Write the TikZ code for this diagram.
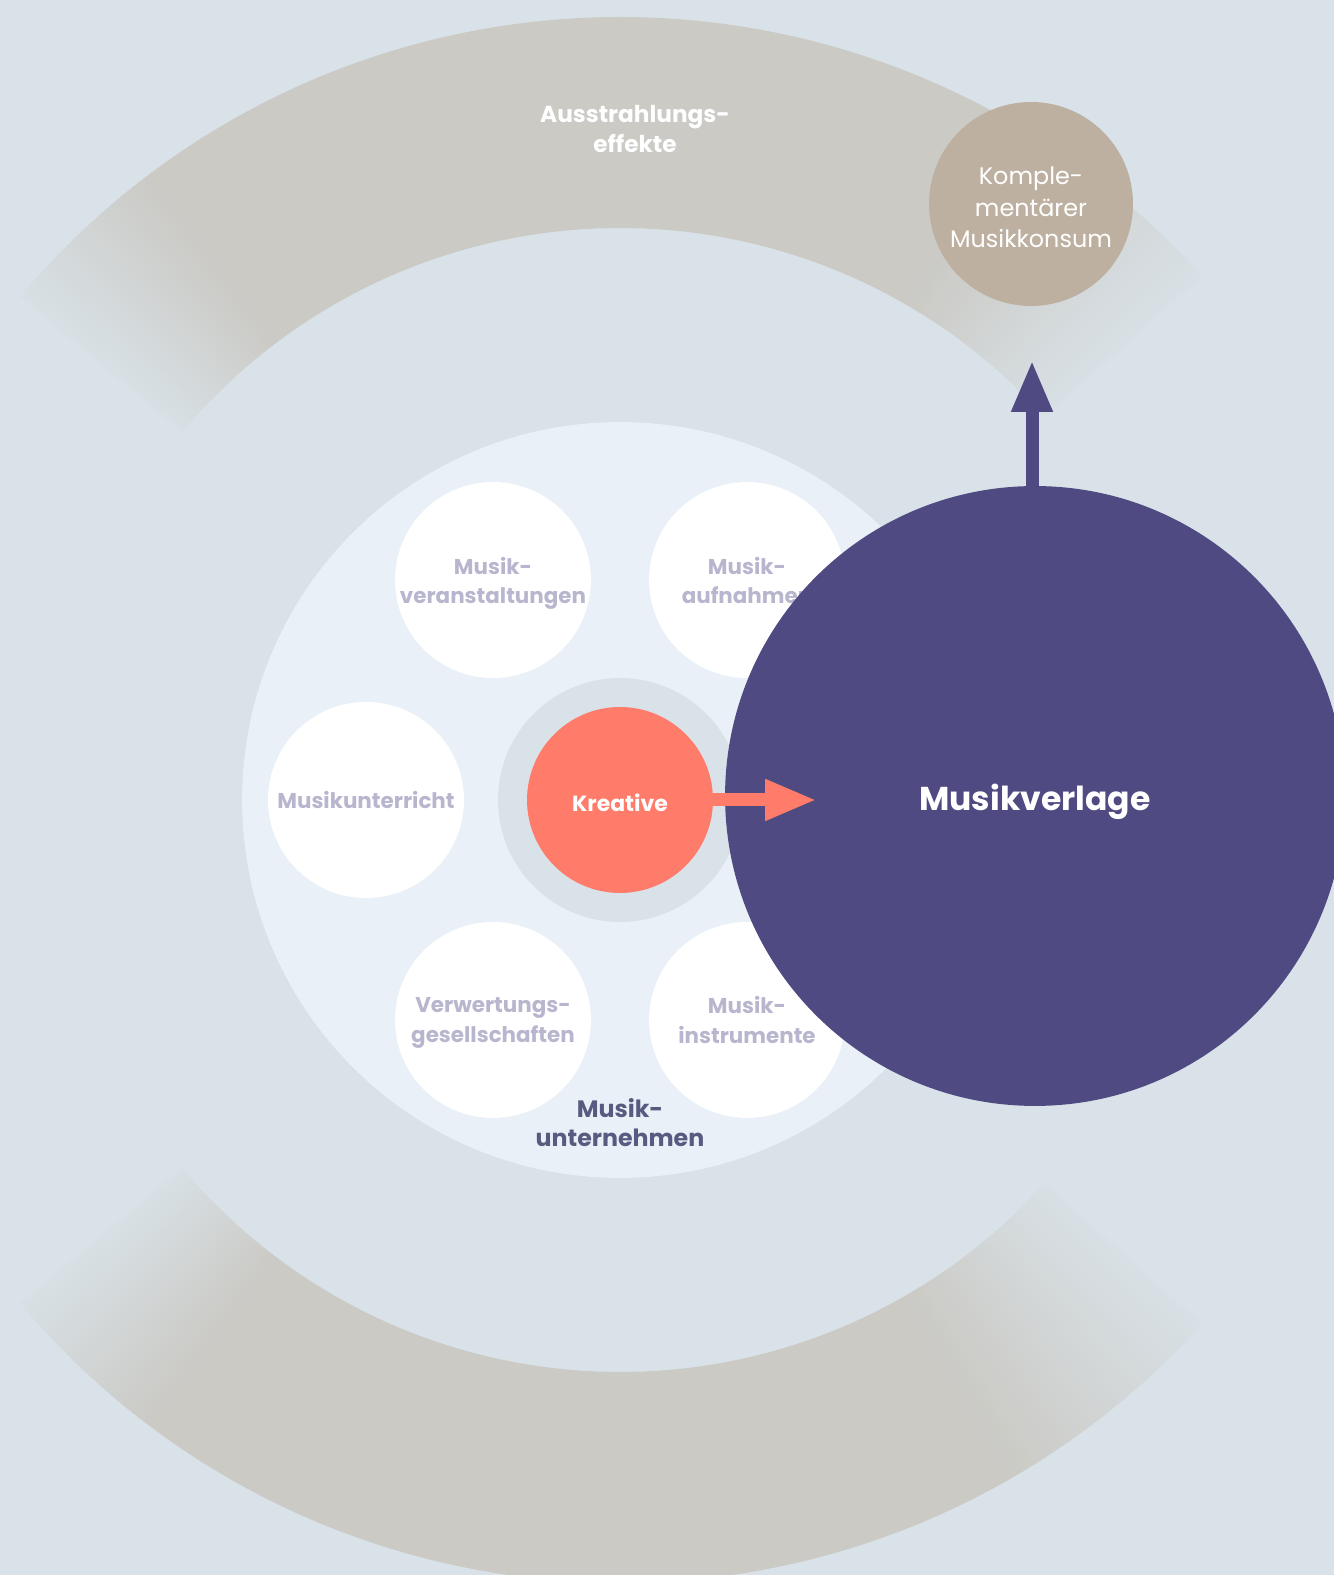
\documentclass[tikz,border=0pt]{standalone}
\usepackage{fontspec}
\setmainfont{Poppins}
\usetikzlibrary{arrows.meta}

\definecolor{bgblue}{HTML}{D9E2E8}
\definecolor{ringgrey}{HTML}{CBCAC5}
\definecolor{discblue}{HTML}{E9F0F7}
\definecolor{coral}{HTML}{FF7C6A}
\definecolor{verlagpurple}{HTML}{4F4A82}
\definecolor{komplbrown}{HTML}{BDB0A0}
\definecolor{bubbletext}{HTML}{B8B6CE}
\definecolor{darklabel}{HTML}{585A80}

\tikzset{
  bubble/.style={circle, fill=white, inner sep=0pt, minimum size=3.92cm,
    align=center, text=bubbletext, text depth=0pt,
    font=\fontsize{12.2}{16.6}\selectfont\bfseries},
  bigarrow/.style={line width=0.26cm, -{Triangle[length=1.04cm, width=0.76cm]}}
}

\begin{document}
\begin{tikzpicture}[x=0.02cm, y=0.02cm]
\useasboundingbox (0,0) rectangle (1334,1575);
\clip (0,0) rectangle (1334,1575);

% Background
\fill[bgblue] (0,0) rectangle (1334,1575);

\begin{scope}[shift={(620,775)}]
% Outer ring, solid parts
\fill[ringgrey] (60:572) arc[start angle=60, end angle=127, radius=572]
  -- (127:783) arc[start angle=127, end angle=60, radius=783] -- cycle;
\fill[ringgrey] (233:572) arc[start angle=233, end angle=300, radius=572]
  -- (300:783) arc[start angle=300, end angle=233, radius=783] -- cycle;

% Outer ring, faded ends
\foreach \cut/\dir/\span in {140/-1/13, 42/1/18, 220/1/13, 318/-1/18}{
  \pgfmathtruncatemacro\n{2*\span-1}
  \foreach \i in {0,...,\n}{
    \pgfmathsetmacro\a{\cut+\dir*\i*0.5}
    \pgfmathsetmacro\b{\a+\dir*0.6}
    \pgfmathtruncatemacro\p{8+92*(\i+0.5)/(2*\span)}
    \fill[ringgrey!\p!bgblue] (\a:572) arc[start angle=\a, end angle=\b, radius=572]
      -- (\b:783) arc[start angle=\b, end angle=\a, radius=783] -- cycle;
  }
}

% Music companies
\node[circle, fill=discblue, inner sep=0pt, minimum size=15.12cm] (firmen) at (0,0) {};
\foreach \ang/\name/\txt in {120/veranstaltungen/{Musik-\\veranstaltungen},
    60/aufnahmen/{Musik-\\aufnahmen},
    180/unterricht/{Musikunterricht},
    240/verwertung/{Verwertungs-\\gesellschaften},
    300/instrumente/{Musik-\\instrumente}}
  \node[bubble] (\name) at (\ang:254) {\txt};

% Creatives
\node[circle, fill=bgblue, inner sep=0pt, minimum size=4.88cm] (halo) at (0,0) {};
\node[circle, fill=coral, inner sep=0pt, minimum size=3.72cm, text=white,
  text height=12.6pt, text depth=0pt,
  font=\fontsize{12.5}{16}\selectfont\bfseries] (kreative) at (0,0) {Kreative};
\end{scope}

\node[text=white, align=center, font=\fontsize{13.2}{17}\selectfont\bfseries]
  (ausstrahlung) at (635,1446) {Ausstrahlungs-\\effekte};
\node[text=darklabel, align=center, font=\fontsize{13.5}{16.5}\selectfont\bfseries]
  (unternehmen) at (620,452) {Musik-\\unternehmen};

% Publishers
\node[circle, fill=verlagpurple, inner sep=0pt, minimum size=12.4cm, text=white,
  text height=17pt, text depth=0pt,
  font=\fontsize{18.8}{24}\selectfont\bfseries] (verlage) at (1035,779) {Musikverlage};
\node[circle, fill=komplbrown, inner sep=0pt, minimum size=4.08cm, text=white,
  align=center, text height=50pt, text depth=0pt,
  font=\fontsize{13.6}{18}\selectfont] (komplement) at (1031,1371)
  {Komple-\\mentärer\\Musikkonsum};

% Arrows
\coordinate (ktip) at (817,775);
\coordinate (vtip) at (1032,1215);
\draw[bigarrow, coral] (kreative) -- (ktip);
\draw[bigarrow, verlagpurple] (verlage.north -| vtip) -- (vtip);
\end{tikzpicture}
\end{document}
